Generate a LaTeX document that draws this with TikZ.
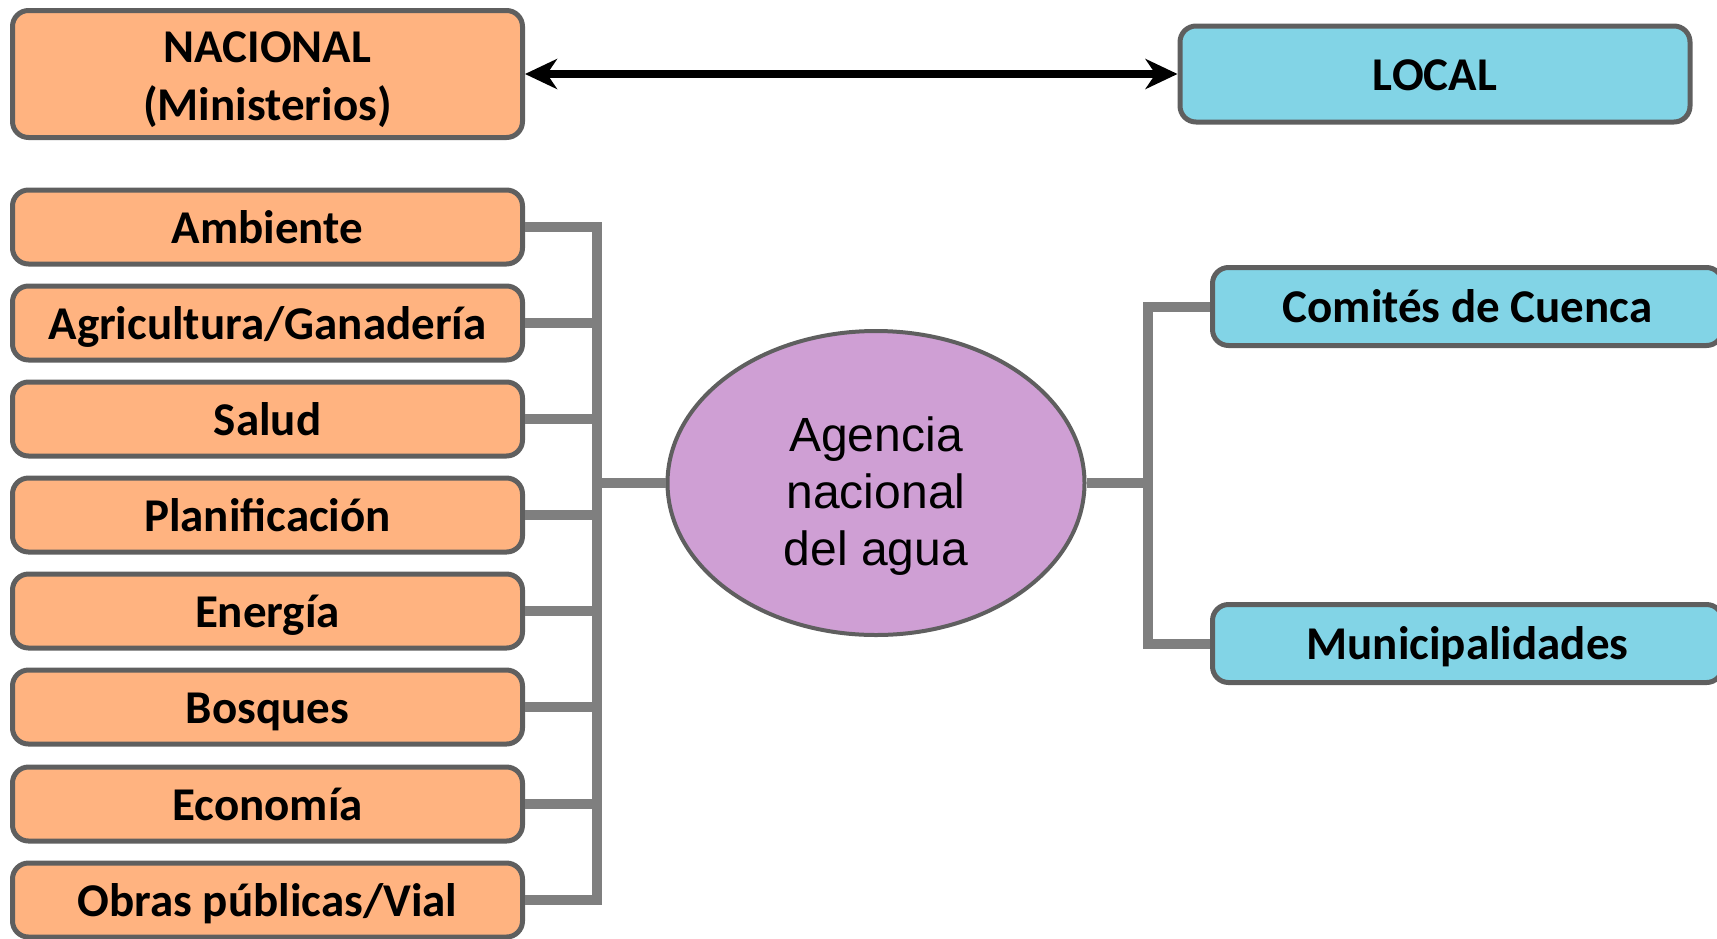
\documentclass[tikz,border=0pt]{standalone}
\usepackage{fontspec}
\usepackage{xcolor}
\usepackage{tikz}
\usetikzlibrary{arrows.meta}
\usetikzlibrary{shapes.geometric}
\newfontfamily\boxfont{Carlito}
\newfontfamily\agfont{Liberation Sans}
\definecolor{naranja}{HTML}{FFB380}
\definecolor{celeste}{HTML}{82D4E6}
\definecolor{lila}{HTML}{CF9FD4}
\definecolor{borde}{HTML}{5F5F5F}
\definecolor{linea}{HTML}{7F7F7F}

\begin{document}
\begin{tikzpicture}[x=0.5pt,y=-0.5pt,
	caja/.style={draw=borde,line width=2.5pt,rounded corners=8pt,inner sep=0pt,
		minimum width=255pt,align=center,text height=18pt,text depth=2pt,
		font=\boxfont\bfseries\fontsize{23.5}{29}\selectfont},
	nac/.style={caja,fill=naranja,minimum height=37pt},
	loc/.style={caja,fill=celeste,minimum height=39pt},
	conn/.style={linea,line width=5pt}]
		\useasboundingbox (0,0) rectangle (1717,938);
		% niveles
		\node[nac,minimum height=63.5pt,text height=51pt,text depth=4.5pt] (nacional) at (267.5,74) {NACIONAL\\(Ministerios)};
		\node[loc,minimum height=48pt] (local) at (1435,74) {LOCAL};
		\draw[line width=4pt,{Stealth[length=16pt,width=15pt,inset=5pt]}-{Stealth[length=16pt,width=15pt,inset=5pt]}] (nacional.east) -- (local.west);
		% ministerios
		\node[nac] (amb) at (267.5,227) {Ambiente};
		\node[nac] (agr) at (267.5,323) {Agricultura/Ganadería};
		\node[nac] (sal) at (267.5,419) {Salud};
		\node[nac] (pla) at (267.5,515) {Planificación};
		\node[nac] (ene) at (267.5,611) {Energía};
		\node[nac] (bos) at (267.5,707) {Bosques};
		\node[nac] (eco) at (267.5,804) {Economía};
		\node[nac] (obr) at (267.5,900) {Obras públicas/Vial};
		% agencia
		\node[ellipse,draw=borde,line width=2pt,fill=lila,minimum width=208.5pt,minimum height=152pt,inner sep=0pt,
			align=center,text height=84pt,text depth=2pt,font=\agfont\fontsize{24}{28.5}\selectfont] (agencia) at (876,483) {Agencia\\nacional\\del agua};
		% local
		\node[loc] (com) at (1467.5,306.5) {Comités de Cuenca};
		\node[loc] (mun) at (1467.5,643.5) {Municipalidades};
		% conexiones
		\coordinate (busL) at (597,483);
		\coordinate (busR) at (1148,483);
		\draw[conn] (amb.east) -| (busL) |- (obr.east);
		\draw[conn] (agr.east) -- (agr.east -| busL);
		\draw[conn] (sal.east) -- (sal.east -| busL);
		\draw[conn] (pla.east) -- (pla.east -| busL);
		\draw[conn] (ene.east) -- (ene.east -| busL);
		\draw[conn] (bos.east) -- (bos.east -| busL);
		\draw[conn] (eco.east) -- (eco.east -| busL);
		\draw[conn] (busL) -- (agencia.west);
		\draw[conn] (agencia.east) -- (busR);
		\draw[conn] (com.west) -| (busR) |- (mun.west);
\end{tikzpicture}
\end{document}
